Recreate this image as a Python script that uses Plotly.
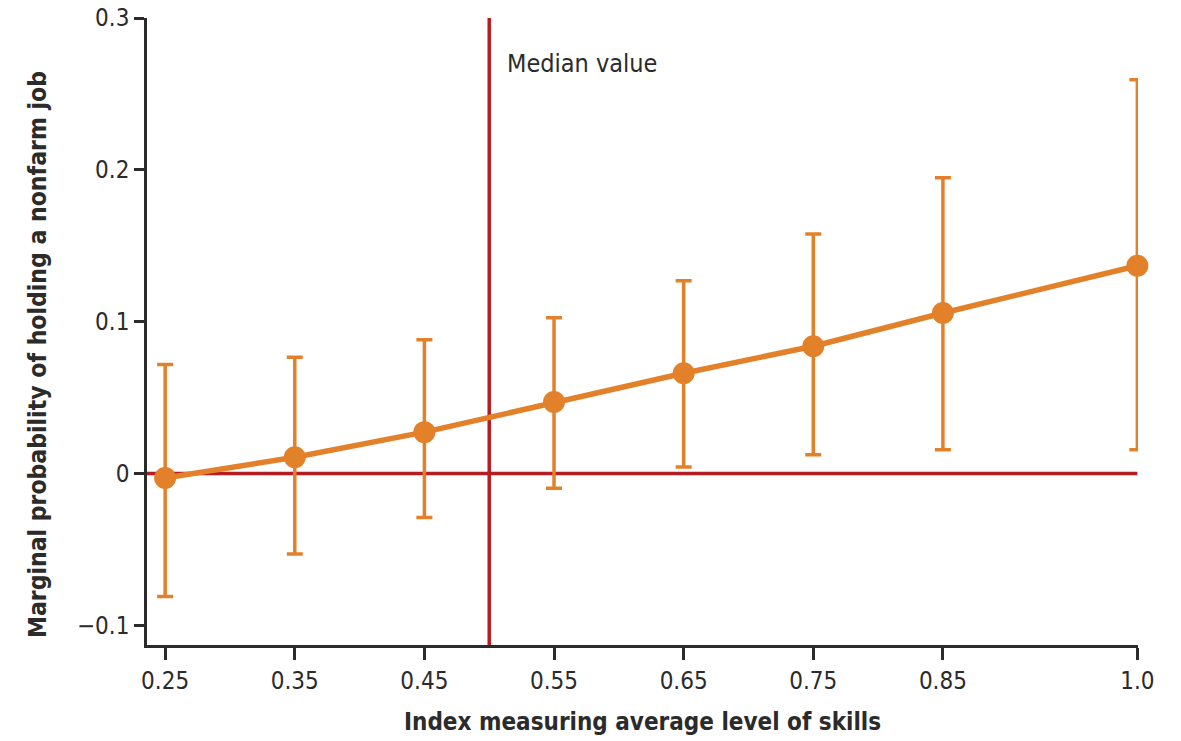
import plotly.graph_objects as go

skills = [0.25, 0.35, 0.45, 0.55, 0.65, 0.75, 0.85, 1.0]
prob = [-0.003, 0.0107, 0.0272, 0.047, 0.066, 0.0838, 0.1057, 0.1368]
upper = [0.0717, 0.0765, 0.088, 0.1026, 0.127, 0.1577, 0.1947, 0.2594]
lower = [-0.081, -0.053, -0.029, -0.0097, 0.0042, 0.0123, 0.0156, 0.0156]
x_ticks = [0.25, 0.35, 0.45, 0.55, 0.65, 0.75, 0.85, 1.0]
x_labels = ["0.25", "0.35", "0.45", "0.55", "0.65", "0.75", "0.85", "1.0"]
y_ticks = [-0.1, 0, 0.1, 0.2, 0.3]
y_labels = ["\u22120.1", "0", "0.1", "0.2", "0.3"]
median_x = 0.5

ORANGE = "#E3812B"
RED = "#B71C22"
DARK = "#2B2B2B"
FONT = "Liberation Sans Narrow, DejaVu Sans Condensed, Arial Narrow, sans-serif"

L, R, T, B = 147, 1138, 18, 645

err_plus = [u - p for u, p in zip(upper, prob)]
err_minus = [p - l for p, l in zip(prob, lower)]

fig = go.Figure()
fig.add_trace(go.Scatter(x=[0.236, 1.0], y=[0, 0], mode="lines",
                         line=dict(color=RED, width=3.5), hoverinfo="skip",
                         showlegend=False, cliponaxis=False))
fig.add_trace(go.Scatter(x=[median_x, median_x], y=[-0.113, 0.3], mode="lines",
                         line=dict(color=RED, width=3.5), hoverinfo="skip",
                         showlegend=False, cliponaxis=False))
fig.add_trace(go.Scatter(
    x=skills, y=prob, mode="lines+markers",
    line=dict(color=ORANGE, width=5.5),
    marker=dict(color=ORANGE, size=22),
    error_y=dict(type="data", symmetric=False, array=err_plus, arrayminus=err_minus,
                 color=ORANGE, thickness=3.5, width=8),
    showlegend=False, cliponaxis=False))

fig.add_annotation(x=0.512, y=0.27, xref="x", yref="y", text="Median value",
                   showarrow=False, xanchor="left", yanchor="middle",
                   font=dict(family=FONT, size=25, color=DARK))
fig.add_annotation(x=0.5, y=-(722 - B) / (B - T), xref="paper", yref="paper",
                   text="<b>Index measuring average level of skills</b>",
                   showarrow=False, xanchor="center", yanchor="middle",
                   font=dict(family=FONT, size=24, color=DARK))
fig.add_annotation(x=(37 - L) / (R - L), y=(B - 355) / (B - T),
                   xref="paper", yref="paper",
                   text="<b>Marginal probability of holding a nonfarm job</b>",
                   showarrow=False, textangle=-90, xanchor="center", yanchor="middle",
                   font=dict(family=FONT, size=24.5, color=DARK))

fig.update_layout(
    width=1181, height=741,
    margin=dict(l=L, r=1181 - R, t=T, b=741 - B, autoexpand=False),
    paper_bgcolor="white", plot_bgcolor="white",
    font=dict(family=FONT, size=24, color=DARK),
    xaxis=dict(range=[0.236, 1.0005], tickvals=x_ticks, ticktext=x_labels,
               showgrid=False, zeroline=False, showline=True, linecolor=DARK,
               linewidth=2.5, ticks="outside", ticklen=12, tickwidth=2.5,
               automargin=False,
               tickcolor=DARK, tickfont=dict(family=FONT, size=24, color=DARK)),
    yaxis=dict(range=[-0.113, 0.3], tickvals=y_ticks, ticktext=y_labels,
               showgrid=False, zeroline=False, showline=True, linecolor=DARK,
               linewidth=2.5, ticks="outside", ticklen=10, tickwidth=2.5,
               automargin=False,
               tickcolor=DARK, tickfont=dict(family=FONT, size=24, color=DARK)),
)

fig.write_html("out.html")
